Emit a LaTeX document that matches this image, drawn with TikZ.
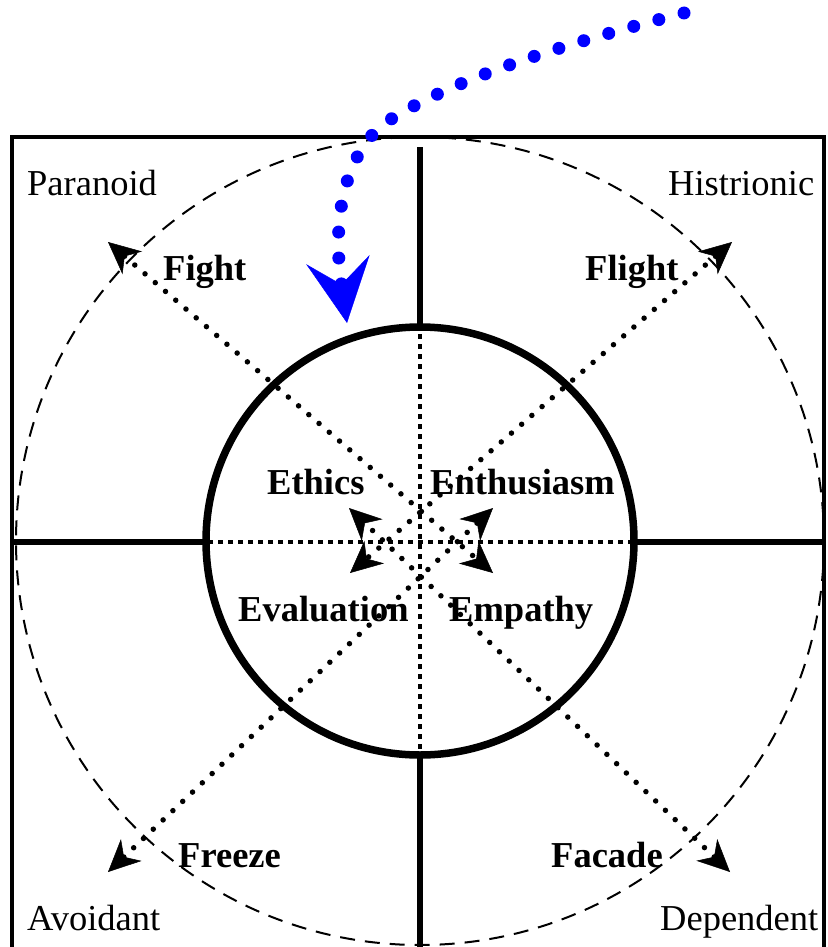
\documentclass[tikz,border=0pt]{standalone}
\usepackage{fontspec}
\setmainfont{Liberation Serif}
\usetikzlibrary{arrows.meta}
\begin{document}
\begin{tikzpicture}[x=1pt,y=-1pt,
  lbl/.style={anchor=base west,inner sep=0pt,font=\fontsize{36.5}{43}\selectfont},
  blbl/.style={anchor=base west,inner sep=0pt,font=\fontsize{36.5}{43}\selectfont\bfseries},
  quad/.style={line width=6.5pt},
  frame/.style={line width=4pt},
  ring/.style={line width=2pt,dash pattern=on 15pt off 10pt},
  inner/.style={line width=7.5pt},
  dotln/.style={line width=5.5pt,line cap=round,dash pattern=on 0pt off 13.5pt},
  axisdot/.style={line width=4.5pt,dash pattern=on 4.5pt off 5.5pt},
  dbl/.style={{Stealth[length=32pt,width=30pt,inset=10pt,line width=0.5pt]}-{Stealth[length=32pt,width=30pt,inset=10pt,line width=0.5pt]}},
  bluedots/.style={blue,line width=13pt,line cap=round,dash pattern=on 0pt off 26pt,
    -{Stealth[length=64pt,width=64pt,inset=25pt,line width=0.5pt]}}
 ]
\useasboundingbox (0,0) rectangle (827,947);
\clip (0,0) rectangle (827,947);
\coordinate (C) at (420,541);
% frame
\draw[frame] (12,137) rectangle (824,970);
% quadrant lines
\coordinate (vt1) at (420,147); \coordinate (vt2) at (420,327);
\coordinate (vb1) at (420,755); \coordinate (vb2) at (420,960);
\coordinate (hl1) at (12,542);  \coordinate (hl2) at (206,542);
\coordinate (hr1) at (634,542); \coordinate (hr2) at (826,542);
\draw[quad] (vt1) -- (vt2);
\draw[quad] (vb1) -- (vb2);
\draw[quad] (hl1) -- (hl2);
\draw[quad] (hr1) -- (hr2);
% circles
\draw[ring] (C) circle[radius=404];
\draw[inner] (C) circle[radius=214];
% labels
\node[lbl] (par) at (27,195) {Paranoid};
\node[lbl] (his) at (668,195) {Histrionic};
\node[lbl] (avo) at (27,930) {Avoidant};
\node[lbl] (dep) at (660,930) {Dependent};
\node[blbl] (fig) at (163,280) {Fight};
\node[blbl] (fli) at (585,280) {Flight};
\node[blbl] (fre) at (178,867) {Freeze};
\node[blbl] (fac) at (551,867) {Facade};
\node[blbl] (eth) at (267,494) {Ethics};
\node[blbl] (ent) at (430,494) {Enthusiasm};
\node[blbl] (eva) at (238,621) {Evaluation};
\node[blbl] (emp) at (449,621) {Empathy};
% axes dotted
\coordinate (ax1) at (208,542); \coordinate (ax2) at (632,542);
\coordinate (ay1) at (420,334); \coordinate (ay2) at (420,752);
\draw[axisdot] (ax1) -- (ax2);
\draw[axisdot] (ay1) -- (ay2);
% diagonal double arrows
\coordinate (FightT) at (108,242);
\coordinate (FlightT) at (732,242);
\coordinate (FreezeT) at (108,872);
\coordinate (FacadeT) at (730,872);
\coordinate (cUL) at (349,508);
\coordinate (cUR) at (493,508);
\coordinate (cLL) at (350,573);
\coordinate (cLR) at (493,573);
\draw[dotln,dbl] (FightT) -- (cLR);
\draw[dotln,dbl] (FlightT) -- (cLL);
\draw[dotln,dbl] (FreezeT) -- (cUR);
\draw[dotln,dbl] (FacadeT) -- (cUL);
% blue arrow
\coordinate (b0) at (684,13);
\coordinate (b1) at (385,123);
\coordinate (b2) at (347,323);
\draw[bluedots] (b0) .. controls (560,45) and (450,80) .. (b1) .. controls (352,148) and (330,205) .. (b2);
\end{tikzpicture}
\end{document}
